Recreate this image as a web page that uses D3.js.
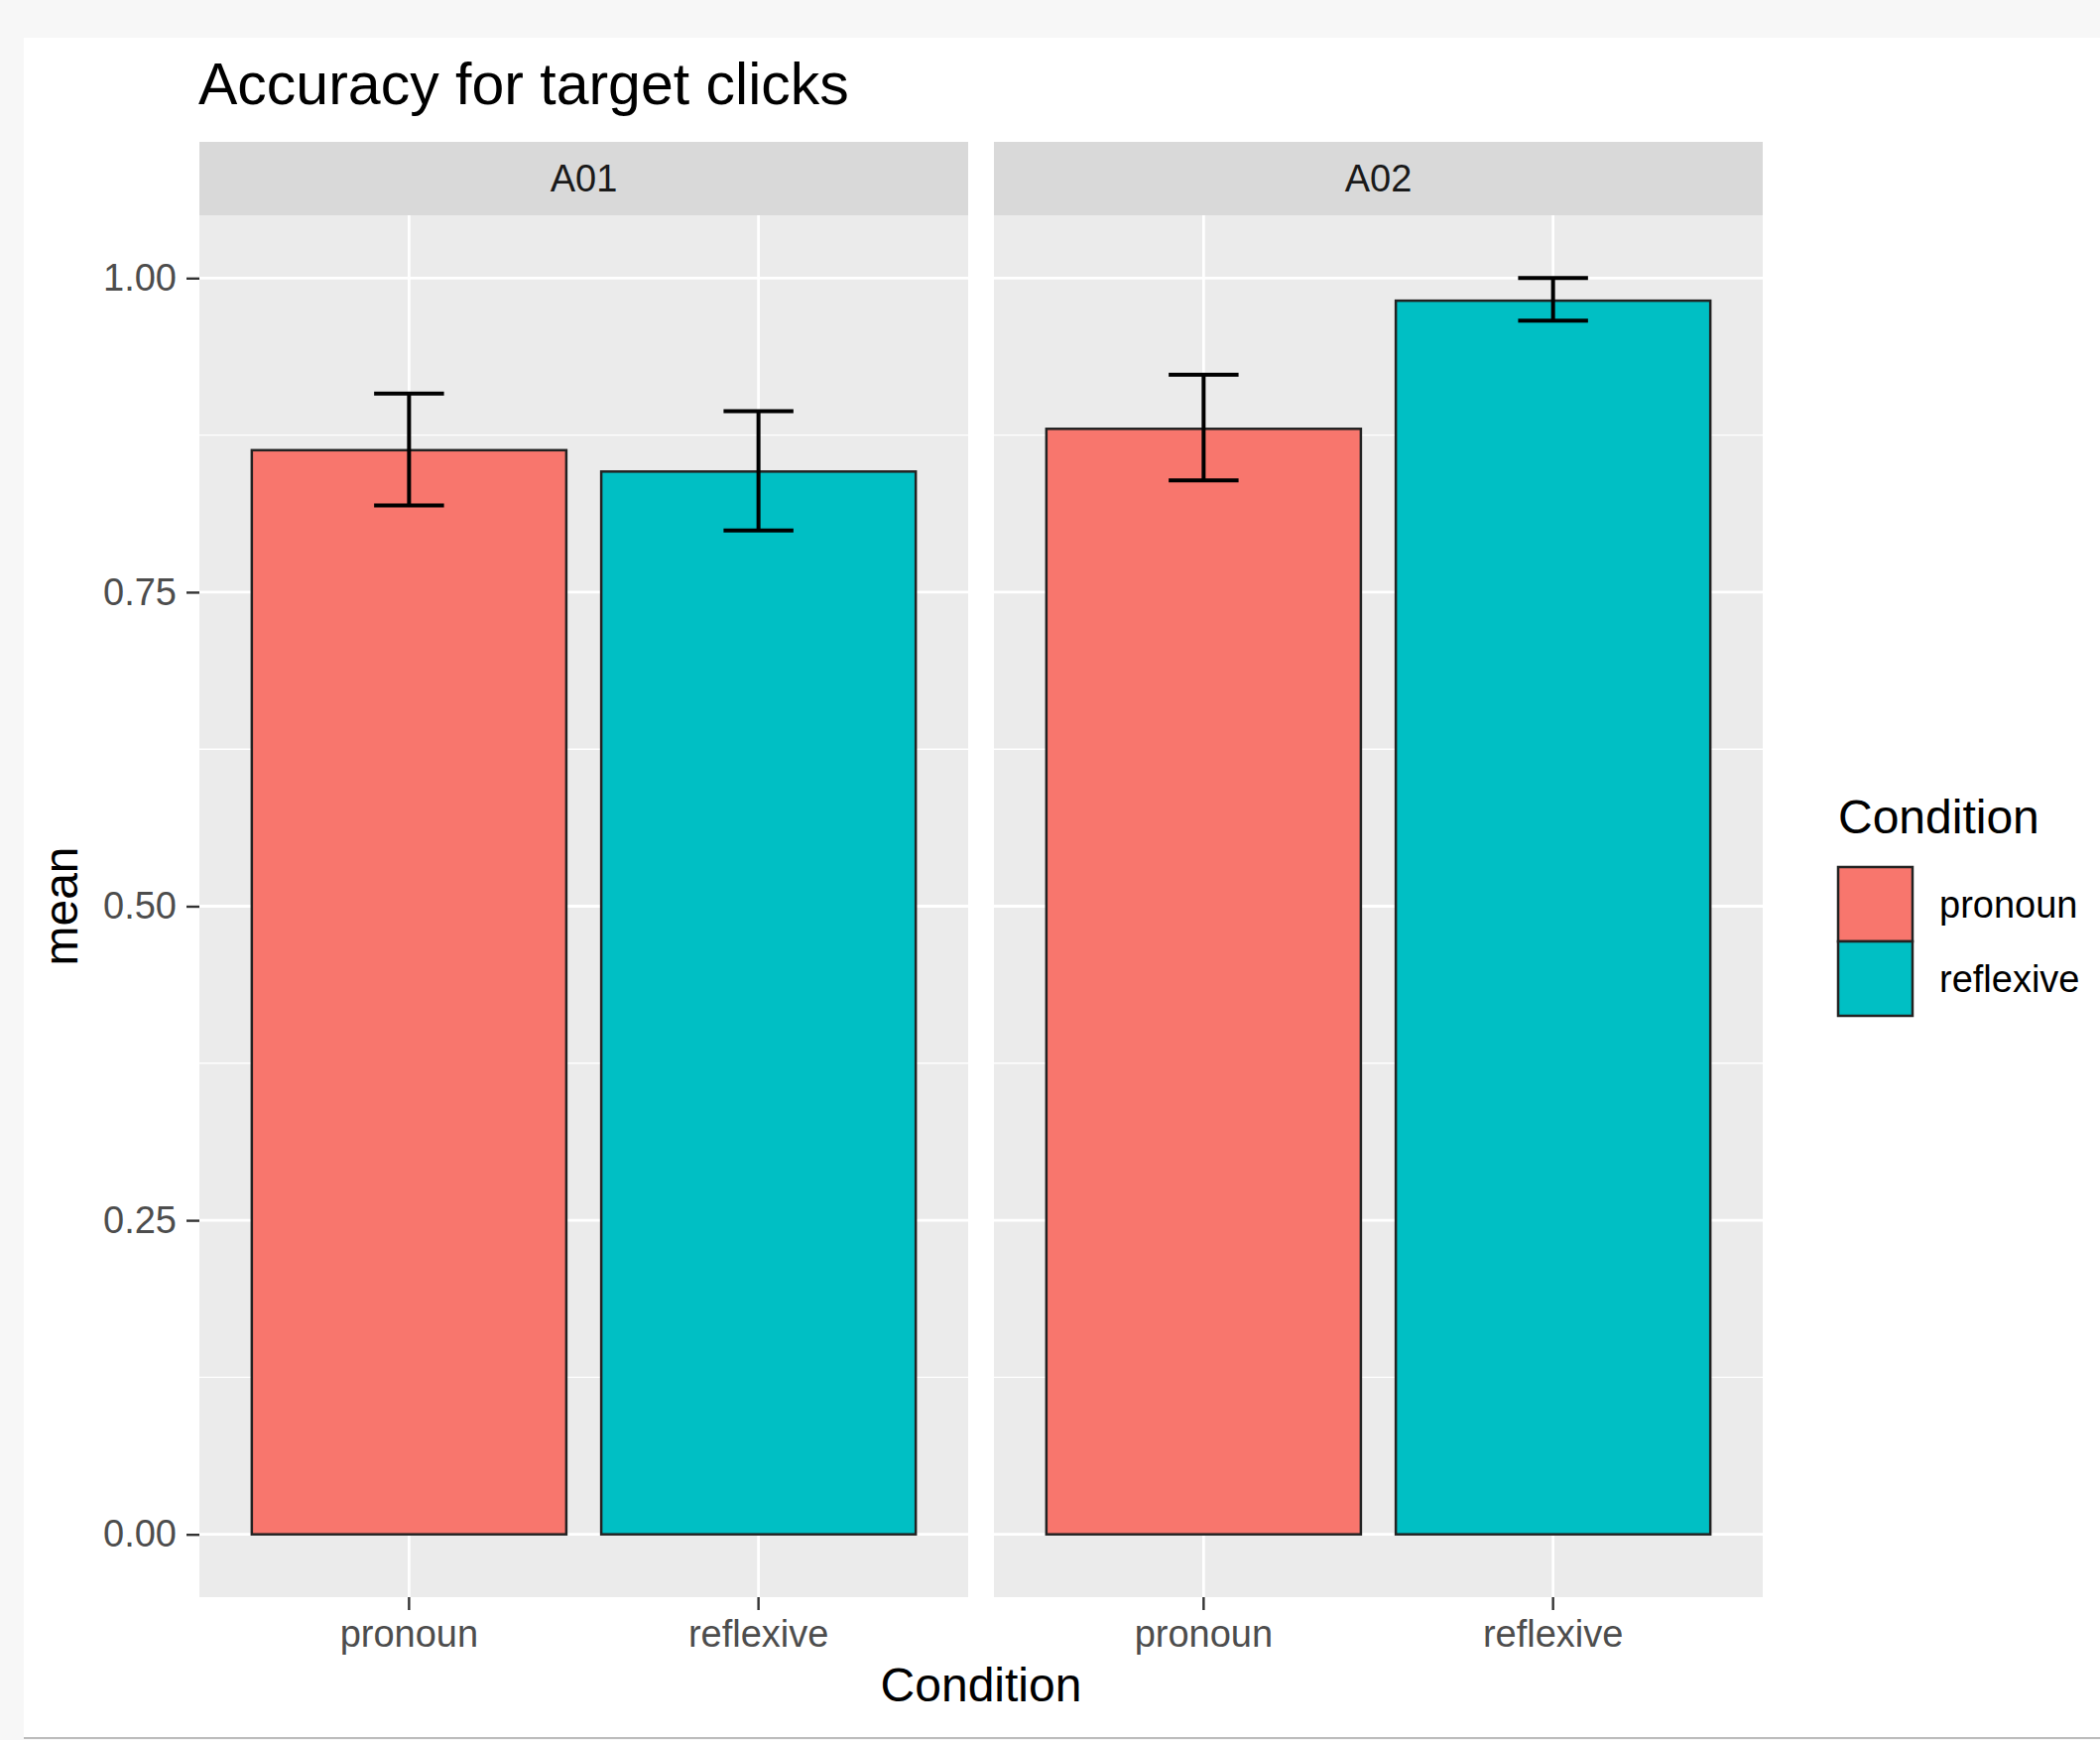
<!DOCTYPE html>
<html>
<head>
<meta charset="utf-8">
<script src="https://cdn.jsdelivr.net/npm/d3@7"></script>
<style>
  body { margin: 0; background: #f7f7f7; }
  svg { display: block; font-family: "Liberation Sans", Arial, Helvetica, sans-serif; }
</style>
</head>
<body>
<div id="chart"></div>
<script>
// data
const panels = ['A01', 'A02'];
const conditions = ['pronoun', 'reflexive'];
const means = {
    A01: [0.863, 0.846],
    A02: [0.880, 0.982]
};
const lower = {
    A01: [0.819, 0.799],
    A02: [0.839, 0.966]
};
const upper = {
    A01: [0.908, 0.894],
    A02: [0.923, 1.000]
};
const yTicks = [0, 0.25, 0.5, 0.75, 1];
const yMinor = [0.125, 0.375, 0.625, 0.875];
const fillColors = ['#F8766D', '#00BFC4'];

const width = 2117;
const height = 1754;
const panelTop = 217;
const panelBottom = 1610;
const stripTop = 143;
const panelX = [201, 1002];
const panelW = 775;

const svg = d3.select('#chart')
    .append('svg')
    .attr('width', width)
    .attr('height', height);

// screenshot card background
svg.append('rect').attr('width', width).attr('height', height).attr('fill', '#f7f7f7');
svg.append('rect').attr('x', 24).attr('y', 38).attr('width', width - 24).attr('height', 1713).attr('fill', '#ffffff');
svg.append('line').attr('x1', 24).attr('x2', width).attr('y1', 1752).attr('y2', 1752)
    .attr('stroke', '#bdbdbd').attr('stroke-width', 2);

// y expand 5% like ggplot
const y = d3.scaleLinear()
    .domain([-0.05, 1.05])
    .range([panelBottom, panelTop]);

const color = d3.scaleOrdinal().domain(conditions).range(fillColors);

svg.append('text')
    .attr('x', 200)
    .attr('y', 105)
    .attr('font-size', 59)
    .attr('fill', '#000')
    .text('Accuracy for target clicks');

panels.forEach((panel, pi) => {
    const g = svg.append('g').attr('transform', `translate(${panelX[pi]},0)`);

    const x = d3.scaleBand()
        .domain(conditions)
        .range([0, panelW])
        .paddingInner(0.1)
        .paddingOuter(0.15);
    const step = x.step();
    const cx = d => x(d) + x.bandwidth() / 2;

    // strip
    g.append('rect')
        .attr('x', 0).attr('y', stripTop)
        .attr('width', panelW).attr('height', panelTop - stripTop)
        .attr('fill', '#D9D9D9');
    g.append('text')
        .attr('x', panelW / 2)
        .attr('y', (stripTop + panelTop) / 2)
        .attr('dy', '0.35em')
        .attr('text-anchor', 'middle')
        .attr('font-size', 38)
        .attr('fill', '#1A1A1A')
        .text(panel);

    // panel background
    g.append('rect')
        .attr('x', 0).attr('y', panelTop)
        .attr('width', panelW).attr('height', panelBottom - panelTop)
        .attr('fill', '#EBEBEB');

    // grid lines
    g.selectAll('.minor').data(yMinor).enter().append('line')
        .attr('x1', 0).attr('x2', panelW)
        .attr('y1', d => y(d)).attr('y2', d => y(d))
        .attr('stroke', '#fff').attr('stroke-width', 1.4);
    g.selectAll('.major-y').data(yTicks).enter().append('line')
        .attr('x1', 0).attr('x2', panelW)
        .attr('y1', d => y(d)).attr('y2', d => y(d))
        .attr('stroke', '#fff').attr('stroke-width', 2.8);
    g.selectAll('.major-x').data(conditions).enter().append('line')
        .attr('x1', d => cx(d)).attr('x2', d => cx(d))
        .attr('y1', panelTop).attr('y2', panelBottom)
        .attr('stroke', '#fff').attr('stroke-width', 2.8);

    // bars
    g.selectAll('.bar').data(conditions).enter().append('rect')
        .attr('x', d => x(d))
        .attr('y', (d, i) => y(means[panel][i]))
        .attr('width', x.bandwidth())
        .attr('height', (d, i) => y(0) - y(means[panel][i]))
        .attr('fill', d => color(d))
        .attr('stroke', '#222')
        .attr('stroke-width', 2.5);

    // error bars
    const half = step * 0.1;
    conditions.forEach((c, i) => {
        const eg = g.append('g')
            .attr('stroke', '#000')
            .attr('stroke-width', 4)
            .attr('fill', 'none');
        eg.append('line').attr('x1', cx(c)).attr('x2', cx(c))
            .attr('y1', y(lower[panel][i])).attr('y2', y(upper[panel][i]));
        eg.append('line').attr('x1', cx(c) - half).attr('x2', cx(c) + half)
            .attr('y1', y(lower[panel][i])).attr('y2', y(lower[panel][i]));
        eg.append('line').attr('x1', cx(c) - half).attr('x2', cx(c) + half)
            .attr('y1', y(upper[panel][i])).attr('y2', y(upper[panel][i]));
    });

    // x axis
    const xAxis = g.append('g')
        .attr('transform', `translate(0,${panelBottom})`)
        .call(d3.axisBottom(x).tickSize(13).tickPadding(10));
    xAxis.select('.domain').remove();
    xAxis.selectAll('line').attr('stroke', '#333').attr('stroke-width', 2.4);
    xAxis.selectAll('text')
        .attr('font-size', 38)
        .attr('fill', '#4D4D4D')
        .attr('font-family', '"Liberation Sans", Arial, Helvetica, sans-serif');
});

// y axis (left panel only)
const yAxis = svg.append('g')
    .attr('transform', `translate(${panelX[0]},0)`)
    .call(d3.axisLeft(y).tickValues(yTicks).tickFormat(d3.format('.2f')).tickSize(13).tickPadding(10));
yAxis.select('.domain').remove();
yAxis.selectAll('line').attr('stroke', '#333').attr('stroke-width', 2.4);
yAxis.selectAll('text')
    .attr('font-size', 38)
    .attr('fill', '#4D4D4D')
    .attr('font-family', '"Liberation Sans", Arial, Helvetica, sans-serif');

// axis titles
svg.append('text')
    .attr('x', (panelX[0] + panelX[1] + panelW) / 2)
    .attr('y', 1715)
    .attr('text-anchor', 'middle')
    .attr('font-size', 48)
    .attr('fill', '#000')
    .text('Condition');

svg.append('text')
    .attr('transform', `translate(78,${(panelTop + panelBottom) / 2}) rotate(-90)`)
    .attr('text-anchor', 'middle')
    .attr('font-size', 48)
    .attr('fill', '#000')
    .text('mean');

// legend
const legend = svg.append('g').attr('transform', 'translate(1853,0)');
legend.append('text')
    .attr('x', 0).attr('y', 840)
    .attr('font-size', 48)
    .attr('fill', '#000')
    .text('Condition');
const keySize = 75;
const keyTop = 874;
legend.selectAll('.key').data(conditions).enter().append('rect')
    .attr('x', 0)
    .attr('y', (d, i) => keyTop + i * keySize)
    .attr('width', keySize).attr('height', keySize)
    .attr('fill', d => color(d))
    .attr('stroke', '#222').attr('stroke-width', 2.5);
legend.selectAll('.lab').data(conditions).enter().append('text')
    .attr('x', keySize + 27)
    .attr('y', (d, i) => keyTop + i * keySize + keySize / 2)
    .attr('dy', '0.35em')
    .attr('font-size', 38)
    .attr('fill', '#000')
    .text(d => d);
</script>
</body>
</html>
